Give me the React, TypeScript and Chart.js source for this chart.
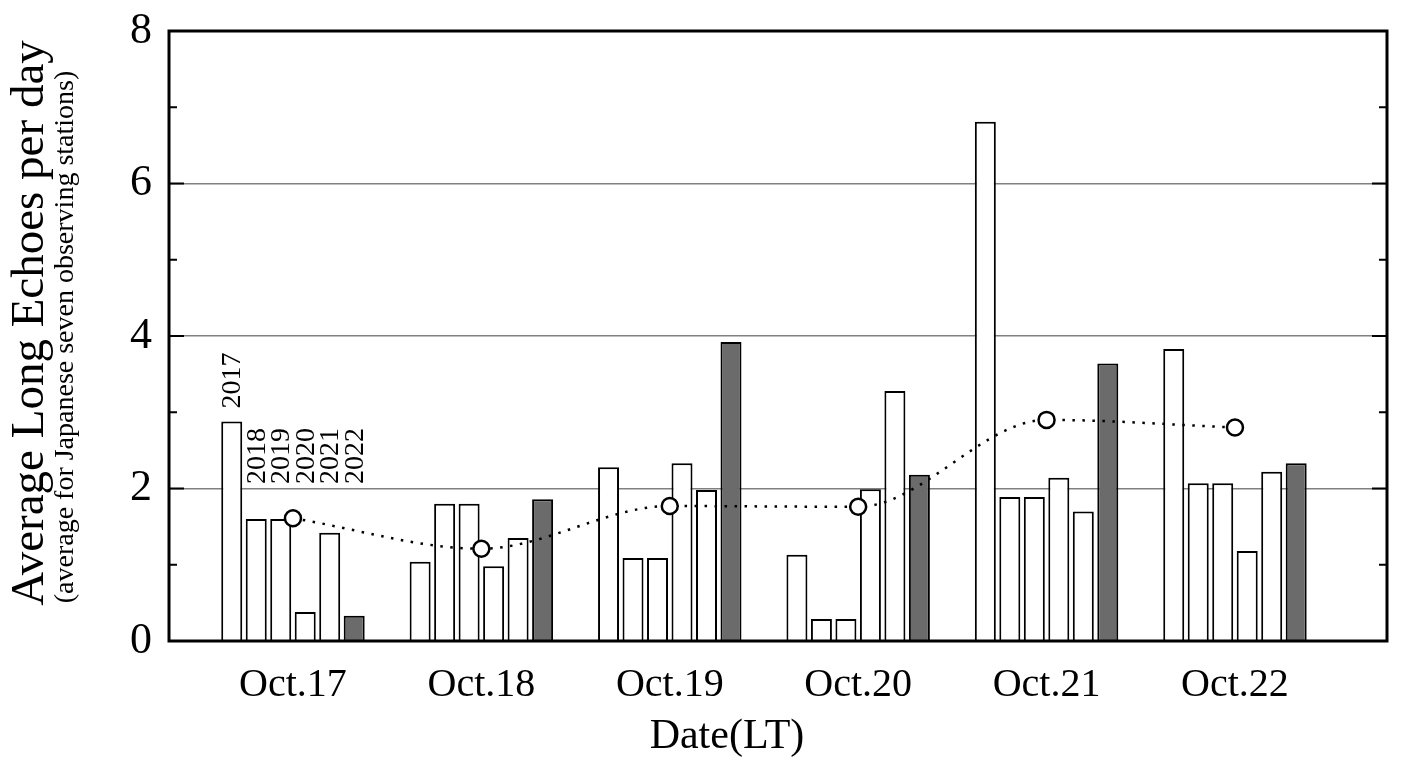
import React, { useEffect, useRef } from 'react';
import { Chart, registerables } from 'chart.js';

Chart.register(...registerables);

const dates = ['Oct.17', 'Oct.18', 'Oct.19', 'Oct.20', 'Oct.21', 'Oct.22'];
const years = ['2017', '2018', '2019', '2020', '2021', '2022'];
const v2017 = [2.88, 1.04, 2.28, 1.13, 6.81, 3.83];
const v2018 = [1.6, 1.8, 1.09, 0.29, 1.89, 2.07];
const v2019 = [1.6, 1.8, 1.09, 0.29, 1.89, 2.07];
const v2020 = [0.38, 0.98, 2.33, 1.99, 2.14, 1.18];
const v2021 = [1.42, 1.35, 1.98, 3.28, 1.7, 2.22];
const v2022 = [0.33, 1.86, 3.92, 2.18, 3.64, 2.33];
const averages = [1.61, 1.21, 1.77, 1.76, 2.9, 2.8];
const yTickValues = [0, 1, 2, 3, 4, 5, 6, 7, 8];

const yTitle = 'Average Long Echoes per day';
const ySubTitle = '(average for Japanese seven observing stations)';
const xTitle = 'Date(LT)';

const FONT = '"Liberation Serif", "Times New Roman", serif';
const seriesValues = [v2017, v2018, v2019, v2020, v2021, v2022];
const fills = ['#ffffff', '#ffffff', '#ffffff', '#ffffff', '#ffffff', '#6b6b6b'];

const decorPlugin = {
  id: 'decor',
  afterDatasetsDraw(chart: any) {
    const { ctx } = chart;
    ctx.save();
    ctx.fillStyle = '#000';
    ctx.font = `28px ${FONT}`;
    ctx.textAlign = 'left';
    ctx.textBaseline = 'middle';
    let minTop = Infinity;
    for (let i = 1; i < years.length; i++) {
      const bar = chart.getDatasetMeta(i + 1).data[0];
      if (bar) minTop = Math.min(minTop, bar.y);
    }
    for (let i = 0; i < years.length; i++) {
      const bar = chart.getDatasetMeta(i + 1).data[0];
      if (!bar) continue;
      const baseY = i === 0 ? bar.y - 13 : minTop - 35;
      ctx.save();
      ctx.translate(bar.x, baseY);
      ctx.rotate(-Math.PI / 2);
      ctx.fillText(years[i], 0, 1);
      ctx.restore();
    }
    ctx.restore();
  },
  afterDraw(chart: any) {
    const { ctx, chartArea: a, scales } = chart;
    const y = scales.y;
    ctx.save();
    ctx.strokeStyle = '#000';
    ctx.lineWidth = 2;
    for (const v of yTickValues) {
      const py = y.getPixelForValue(v);
      const len = v % 2 === 0 ? 15 : 8;
      ctx.beginPath();
      ctx.moveTo(a.left, py);
      ctx.lineTo(a.left + len, py);
      ctx.moveTo(a.right, py);
      ctx.lineTo(a.right - len, py);
      ctx.stroke();
    }
    ctx.lineWidth = 3;
    ctx.strokeRect(a.left, a.top, a.right - a.left, a.bottom - a.top);

    ctx.fillStyle = '#000';
    ctx.textAlign = 'center';
    ctx.textBaseline = 'alphabetic';
    ctx.save();
    ctx.translate(43, 323);
    ctx.rotate(-Math.PI / 2);
    ctx.font = `47px ${FONT}`;
    ctx.fillText(yTitle, 0, 0);
    ctx.restore();

    ctx.save();
    ctx.translate(73, 337);
    ctx.rotate(-Math.PI / 2);
    ctx.font = `28px ${FONT}`;
    ctx.fillText(ySubTitle, 0, 0);
    ctx.restore();

    ctx.font = `42px ${FONT}`;
    ctx.fillText(xTitle, 727, 748);
    ctx.restore();
  },
};

export default function App() {
  const canvasRef = useRef<HTMLCanvasElement | null>(null);

  useEffect(() => {
    if (!canvasRef.current) return;
    const barSets = seriesValues.map((vals, i) => ({
      type: 'bar' as const,
      label: years[i],
      data: vals.map((v, k) => ({ x: k, y: v })),
      backgroundColor: fills[i],
      borderColor: '#000',
      borderWidth: 2,
      borderSkipped: 'start',
      categoryPercentage: 0.78,
      barPercentage: 0.857,
      order: 1,
    }));
    const chart = new Chart(canvasRef.current, {
      type: 'bar',
      data: {
        datasets: [
          {
            type: 'line' as const,
            label: 'average',
            data: averages.map((v, k) => ({ x: k, y: v })),
            borderColor: '#000',
            borderWidth: 2.5,
            borderDash: [2.5, 7.5],
            cubicInterpolationMode: 'monotone',
            pointRadius: 8,
            pointBorderWidth: 2.5,
            pointBackgroundColor: '#fff',
            pointBorderColor: '#000',
            fill: false,
            order: 0,
          } as any,
          ...barSets,
        ],
      },
      options: {
        responsive: false,
        animation: false,
        devicePixelRatio: 1,
        layout: { padding: { top: 31, right: 23, left: 0, bottom: 0 } },
        plugins: { legend: { display: false }, tooltip: { enabled: false } },
        scales: {
          x: {
            type: 'linear',
            min: -0.658,
            max: 5.807,
            offset: false,
            grid: { display: false, drawTicks: false, offset: false },
            border: { display: false },
            afterBuildTicks: (scale: any) => {
              scale.ticks = dates.map((_, i) => ({ value: i }));
            },
            afterFit: (scale: any) => {
              scale.height = 119;
              scale.paddingLeft = 0;
              scale.paddingRight = 0;
            },
            ticks: {
              autoSkip: false,
              maxRotation: 0,
              minRotation: 0,
              padding: 20,
              color: '#000',
              font: { family: FONT, size: 40 },
              callback: (v: any) => dates[Math.round(Number(v))] ?? '',
            },
          },
          y: {
            min: 0,
            max: 8,
            grid: {
              drawTicks: false,
              lineWidth: 1.5,
              color: (c: any) => {
                const v = c.tick && c.tick.value;
                return v === 2 || v === 4 || v === 6 ? '#808080' : 'rgba(0,0,0,0)';
              },
            },
            border: { display: false },
            afterFit: (scale: any) => {
              scale.width = 169;
              scale.paddingTop = 0;
              scale.paddingBottom = 0;
            },
            ticks: {
              stepSize: 2,
              padding: 17,
              color: '#000',
              font: { family: FONT, size: 44 },
            },
          },
        },
      } as any,
      plugins: [decorPlugin],
    });
    return () => chart.destroy();
  }, []);

  return (
    <div style={{ position: 'absolute', left: 0, top: 0, width: 1410, height: 760, background: '#fff' }}>
      <canvas ref={canvasRef} width={1410} height={760} />
    </div>
  );
}
